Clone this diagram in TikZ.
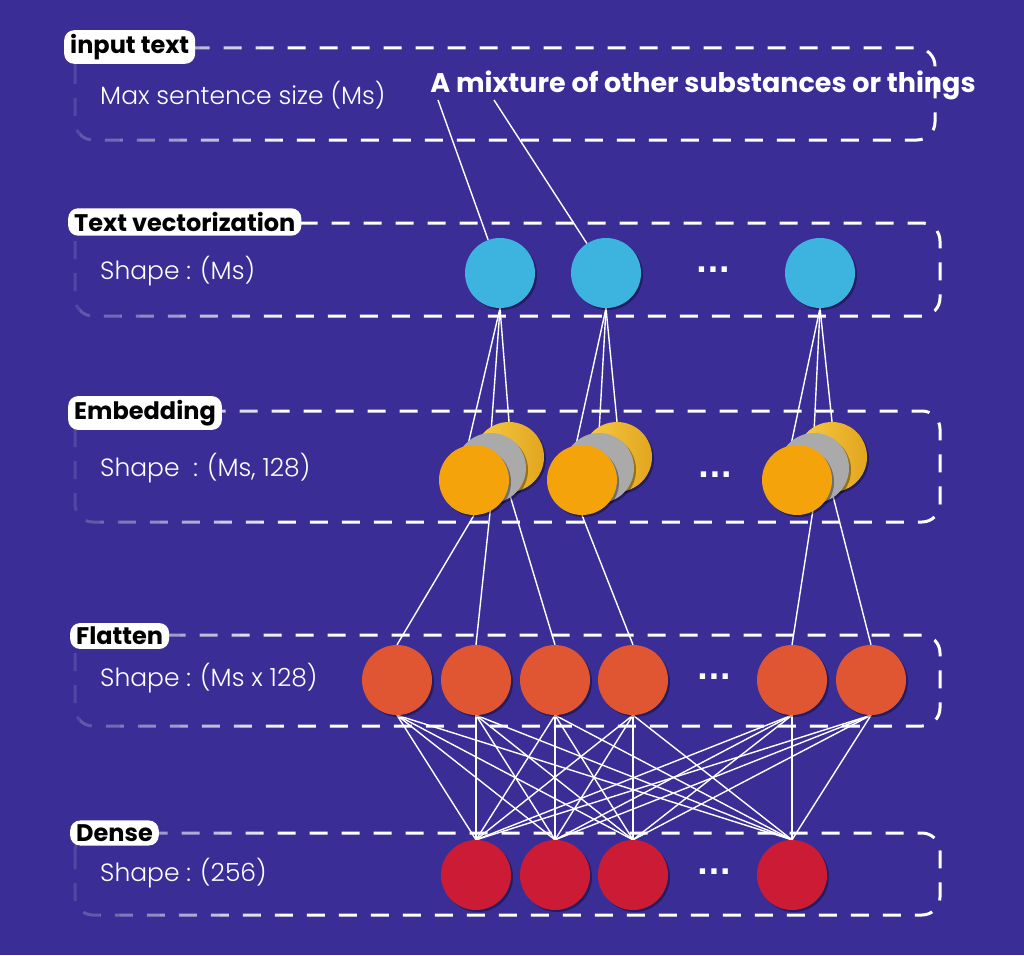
\documentclass[tikz,border=0pt]{standalone}
\usepackage{fontspec}
\setmainfont{Poppins}
\newfontfamily\thinfont{Poppins}[UprightFont=* Light]
\newfontfamily\dotfont{DejaVu Sans}
\usetikzlibrary{shadows}
\definecolor{bgblue}{RGB}{58,46,150}
\definecolor{cblue}{RGB}{61,180,224}
\definecolor{corange}{RGB}{244,163,10}
\definecolor{cgray}{RGB}{170,170,170}
\definecolor{cyellow}{RGB}{248,204,70}
\definecolor{cyellowdk}{RGB}{226,165,30}
\definecolor{cflat}{RGB}{224,85,50}
\definecolor{cdense}{RGB}{204,27,53}
\pgfdeclarelayer{back}
\pgfdeclarelayer{wires}
\pgfsetlayers{back,wires,main}
\newcommand\fadebox[4]{%
  \foreach \k in {0,...,11}{%
    \pgfmathtruncatemacro\pc{12+\k*8}%
    \begin{scope}
      \clip (60+\k*20,#2-20) rectangle (80+\k*20,#4+20);
      \draw[boxline, draw=white!\pc!bgblue] (#1,#2) rectangle (#3,#4);
    \end{scope}
  }%
  \begin{scope}
    \clip (300,#2-20) rectangle (1000,#4+20);
    \draw[boxline] (#1,#2) rectangle (#3,#4);
  \end{scope}%
}
\begin{document}
\begin{tikzpicture}[x=1pt,y=-1pt,
  boxline/.style={draw=white, line width=3pt, dash pattern=on 18pt off 14pt, rounded corners=18pt},
  lbl/.style={fill=white, rounded corners=10pt, text=black, font=\bfseries\fontsize{24}{27}\selectfont, inner xsep=6pt, inner ysep=4pt, anchor=west},
  sub/.style={text=white, font=\thinfont\fontsize{25}{29}\selectfont, anchor=west, inner sep=0pt},
  neuron/.style={circle, minimum size=70pt, inner sep=0pt, drop shadow={shadow xshift=2pt, shadow yshift=-2pt, opacity=0.35, fill=black}},
  conn/.style={white, line width=1.4pt},
  dotstext/.style={text=white, font=\dotfont\bfseries\fontsize{30}{30}\selectfont},
  title/.style={text=white, font=\bfseries\fontsize{27}{31}\selectfont}
]
\begin{pgfonlayer}{back}
\fill[bgblue] (0,0) rectangle (1024,955);
\useasboundingbox (0,0) rectangle (1024,955);
\fadebox{75}{48}{935}{140}
\fadebox{75}{223}{940}{316}
\fadebox{75}{411}{940}{522}
\fadebox{75}{635}{940}{726}
\fadebox{75}{833}{940}{915}
\end{pgfonlayer}

\node[lbl] (l1) at (64,47) {input text};
\node[lbl] (l2) at (68,222) {Text vectorization};
\node[lbl] (l3) at (68,413) {Embedding};
\node[lbl] (l4) at (70,636) {Flatten};
\node[lbl] (l5) at (70,833) {Dense};

\node[sub] (s1) at (100,95) {Max sentence size (Ms)};
\node[sub] (s2) at (100,271) {Shape : (Ms)};
\node[sub] (s3) at (100,468) {Shape \ : (Ms, 128)};
\node[sub] (s4) at (100,678) {Shape : (Ms x 128)};
\node[sub] (s5) at (100,873) {Shape : (256)};

\node[title] (tt) at (703,85) {A mixture of other substances or things};
\coordinate (ta) at (438,100);
\coordinate (tm) at (494,100);

% text vectorization
\node[neuron, fill=cblue] (b1) at (500,273) {};
\node[neuron, fill=cblue] (b2) at (606,273) {};
\node[neuron, fill=cblue] (b3) at (820,273) {};
\node[dotstext] (dt1) at (713,270) {...};

% embedding stacks
\foreach \i/\x in {1/474,2/582,3/797}{
  \node[neuron, left color=cyellow, right color=cyellowdk] (y\i) at (\x+35,457) {};
  \node[neuron, fill=cgray] (g\i) at (\x+17,468) {};
  \node[neuron, fill=corange] (o\i) at (\x,480) {};
}
\node[dotstext] (dt2) at (715,475) {...};

% flatten
\foreach \i/\x in {1/397,2/476,3/555,4/633,5/792,6/871}{
  \node[neuron, fill=cflat] (f\i) at (\x,680) {};
}
\node[dotstext] (dt3) at (714,677) {...};

% dense
\foreach \i/\x in {1/476,2/555,3/633,4/792}{
  \node[neuron, fill=cdense] (d\i) at (\x,875) {};
}
\node[dotstext] (dt4) at (714,872) {...};

\begin{pgfonlayer}{wires}
\draw[conn] (ta) -- (b1);
\draw[conn] (tm) -- (b2);
\foreach \i in {1,2,3}{
  \draw[conn] (b\i.south) -- (o\i.100);
  \draw[conn] (b\i.south) -- (g\i.north);
  \draw[conn] (b\i.south) -- (y\i.north);
}
\draw[conn] (o1.south) -- (f1.north);
\draw[conn] (g1.south) -- (f2.north);
\draw[conn] (y1.south) -- (f3.north);
\draw[conn] (o2.south) -- (f4.north);
\draw[conn] (g3.south) -- (f5.north);
\draw[conn] (y3.south) -- (f6.north);
\foreach \i in {1,...,6}{
  \foreach \j in {1,...,4}{
    \draw[conn] (f\i.south) -- (d\j.north);
  }
}
\end{pgfonlayer}
\end{tikzpicture}
\end{document}
